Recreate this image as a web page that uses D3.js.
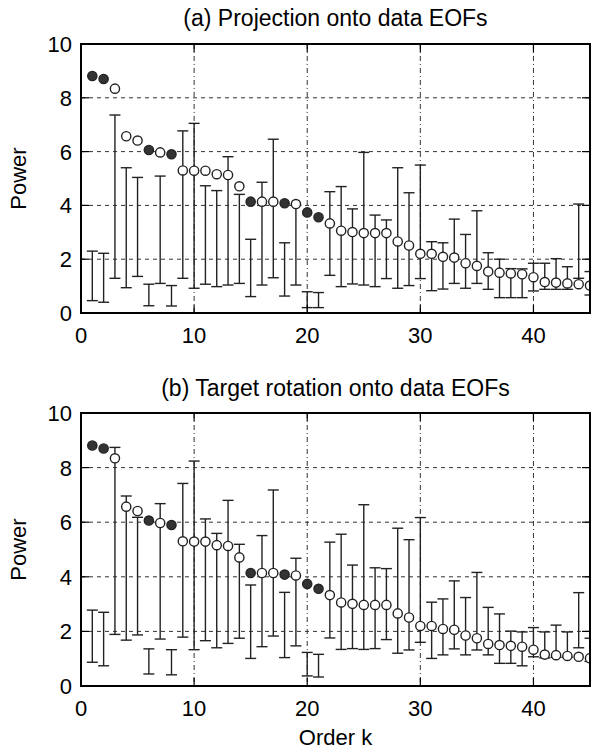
<!DOCTYPE html>
<html>
<head>
<meta charset="utf-8">
<script src="https://cdn.jsdelivr.net/npm/d3@7"></script>
<style>
  body { margin: 0; background: #fff; }
  svg text { font-family: "Liberation Sans", Arial, sans-serif; fill: #000; }
</style>
</head>
<body>
<div id="chart"></div>
<script>
// order k and the power of each data EOF (same in both panels)
var orders = d3.range(1, 46);
var power = [8.81, 8.70, 8.34, 6.57, 6.41, 6.06, 5.97, 5.90, 5.30, 5.29,
             5.29, 5.16, 5.13, 4.71, 4.14, 4.14, 4.14, 4.08, 4.05, 3.74,
             3.56, 3.33, 3.06, 3.01, 2.97, 2.97, 2.97, 2.66, 2.51, 2.20,
             2.20, 2.09, 2.06, 1.85, 1.75, 1.54, 1.50, 1.47, 1.44, 1.33,
             1.15, 1.13, 1.10, 1.07, 1.02];
// orders drawn with a filled marker
var filledOrders = [1, 2, 6, 8, 15, 18, 20, 21];

// (a) projection: range of the null distribution
var projLow  = [0.46, 0.40, 1.29, 0.94, 1.36, 0.27, 1.10, 0.26, 1.29, 0.92,
                1.07, 0.98, 1.04, 1.10, 0.61, 1.04, 1.31, 0.63, 1.04, 0.20,
                0.20, 1.40, 0.98, 1.08, 1.04, 0.98, 1.28, 0.92, 1.02, 1.28,
                0.83, 0.89, 1.10, 0.92, 1.10, 0.88, 0.57, 0.57, 0.57, 0.82,
                0.88, 0.88, 0.88, 1.29, 0.67];
var projHigh = [2.30, 2.22, 7.36, 5.40, 5.04, 1.07, 5.09, 1.02, 6.77, 7.05,
                4.73, 4.55, 5.81, 4.41, 2.74, 4.86, 6.46, 2.61, 4.00, 0.79,
                0.76, 4.51, 4.70, 3.87, 5.97, 3.64, 3.46, 5.40, 4.47, 5.50,
                2.65, 2.61, 3.49, 2.92, 3.80, 2.24, 2.00, 1.65, 1.64, 1.85,
                1.85, 2.02, 1.72, 4.05, 1.54];

// (b) target rotation
var rotLow  = [0.87, 0.74, 1.89, 1.68, 1.87, 0.44, 1.72, 0.41, 1.79, 1.33,
               1.66, 1.40, 1.56, 1.75, 1.01, 1.44, 1.83, 1.04, 1.47, 0.37,
               0.33, 1.76, 1.34, 1.37, 1.34, 1.37, 1.70, 1.20, 1.32, 1.60,
               1.01, 1.14, 1.36, 1.14, 1.32, 1.14, 0.83, 0.83, 0.74, 1.07,
               1.03, 1.05, 1.05, 1.40, 0.90];
var rotHigh = [2.78, 2.70, 8.74, 6.96, 6.18, 1.36, 6.68, 1.33, 7.42, 8.24,
               6.12, 5.59, 6.80, 5.19, 3.70, 5.51, 7.18, 3.43, 4.68, 1.23,
               1.16, 5.27, 5.56, 4.43, 6.64, 4.33, 4.30, 5.78, 5.36, 6.17,
               3.07, 3.19, 3.85, 3.24, 4.16, 2.88, 2.64, 2.01, 1.98, 2.14,
               1.98, 2.23, 1.98, 3.42, 1.75];

var xTicks = [0, 10, 20, 30, 40];
var yTicks = [0, 2, 4, 6, 8, 10];

var width = 593, height = 750;
var left = 81, right = 590;

var svg = d3.select('#chart').append('svg')
  .attr('width', width)
  .attr('height', height);

var x = d3.scaleLinear().domain([0, 45]).range([left, right]);

function drawPanel(id, title, top, bottom, low, high, titleY) {
  var y = d3.scaleLinear().domain([0, 10]).range([bottom, top]);
  var g = svg.append('g');

  g.append('clipPath').attr('id', 'clip-' + id)
    .append('rect')
    .attr('x', left).attr('y', top)
    .attr('width', right - left).attr('height', bottom - top);

  //grid
  g.selectAll('.hgrid')
    .data(yTicks.filter(function(d) { return d > 0 && d < 10; }))
    .enter().append('line')
      .attr('x1', left).attr('x2', right)
      .attr('y1', function(d) { return y(d); })
      .attr('y2', function(d) { return y(d); })
      .attr('stroke', '#333').attr('stroke-width', 1)
      .attr('stroke-dasharray', '4,4');
  g.selectAll('.vgrid')
    .data(xTicks.filter(function(d) { return d > 0; }))
    .enter().append('line')
      .attr('x1', function(d) { return x(d); })
      .attr('x2', function(d) { return x(d); })
      .attr('y1', top).attr('y2', bottom)
      .attr('stroke', '#333').attr('stroke-width', 1)
      .attr('stroke-dasharray', '5,3,1,3');

  var inner = g.append('g').attr('clip-path', 'url(#clip-' + id + ')');

  //error bars
  var bars = inner.selectAll('.bar')
    .data(orders)
    .enter().append('g');
  bars.append('line')
    .attr('x1', function(d) { return x(d); })
    .attr('x2', function(d) { return x(d); })
    .attr('y1', function(d, i) { return y(low[i]); })
    .attr('y2', function(d, i) { return y(high[i]); });
  bars.append('line')
    .attr('x1', function(d) { return x(d) - 5.5; })
    .attr('x2', function(d) { return x(d) + 5.5; })
    .attr('y1', function(d, i) { return y(low[i]); })
    .attr('y2', function(d, i) { return y(low[i]); });
  bars.append('line')
    .attr('x1', function(d) { return x(d) - 5.5; })
    .attr('x2', function(d) { return x(d) + 5.5; })
    .attr('y1', function(d, i) { return y(high[i]); })
    .attr('y2', function(d, i) { return y(high[i]); });
  bars.selectAll('line').attr('stroke', '#222').attr('stroke-width', 1.4);

  //markers
  inner.selectAll('.pt')
    .data(orders)
    .enter().append('circle')
      .attr('cx', function(d) { return x(d); })
      .attr('cy', function(d, i) { return y(power[i]); })
      .attr('r', 4.6)
      .attr('fill', function(d) { return filledOrders.includes(d) ? '#333' : '#fff'; })
      .attr('stroke', '#222')
      .attr('stroke-width', 1.4);

  //inward ticks on all four sides
  var tl = 8;
  xTicks.forEach(function(t) {
    g.append('line').attr('x1', x(t)).attr('x2', x(t)).attr('y1', bottom).attr('y2', bottom - tl);
    g.append('line').attr('x1', x(t)).attr('x2', x(t)).attr('y1', top).attr('y2', top + tl);
  });
  yTicks.forEach(function(t) {
    g.append('line').attr('x1', left).attr('x2', left + tl).attr('y1', y(t)).attr('y2', y(t));
    g.append('line').attr('x1', right).attr('x2', right - tl).attr('y1', y(t)).attr('y2', y(t));
  });
  g.selectAll('line').filter(function() { return !this.getAttribute('stroke'); })
    .attr('stroke', '#000').attr('stroke-width', 1.2);

  //frame
  g.append('rect')
    .attr('x', left).attr('y', top)
    .attr('width', right - left).attr('height', bottom - top)
    .attr('fill', 'none').attr('stroke', '#000').attr('stroke-width', 2);

  //labels
  g.selectAll('.xlab')
    .data(xTicks)
    .enter().append('text')
      .attr('x', function(d) { return x(d); })
      .attr('y', bottom + 30)
      .attr('text-anchor', 'middle')
      .style('font-size', '22px')
      .text(function(d) { return d; });
  g.selectAll('.ylab')
    .data(yTicks)
    .enter().append('text')
      .attr('x', left - 9)
      .attr('y', function(d) { return y(d); })
      .attr('dy', '0.36em')
      .attr('text-anchor', 'end')
      .style('font-size', '22px')
      .text(function(d) { return d; });

  g.append('text')
    .attr('transform', 'translate(26,' + ((top + bottom) / 2) + ') rotate(-90)')
    .attr('text-anchor', 'middle')
    .style('font-size', '22px')
    .text('Power');

  g.append('text')
    .attr('x', (left + right) / 2)
    .attr('y', titleY)
    .attr('text-anchor', 'middle')
    .style('font-size', '23px')
    .text(title);
}

drawPanel('a', '(a) Projection onto data EOFs', 44, 313, projLow, projHigh, 26);
drawPanel('b', '(b) Target rotation onto data EOFs', 413, 686, rotLow, rotHigh, 396);

svg.append('text')
  .attr('x', (left + right) / 2)
  .attr('y', 745)
  .attr('text-anchor', 'middle')
  .style('font-size', '22px')
  .text('Order k');
</script>
</body>
</html>
